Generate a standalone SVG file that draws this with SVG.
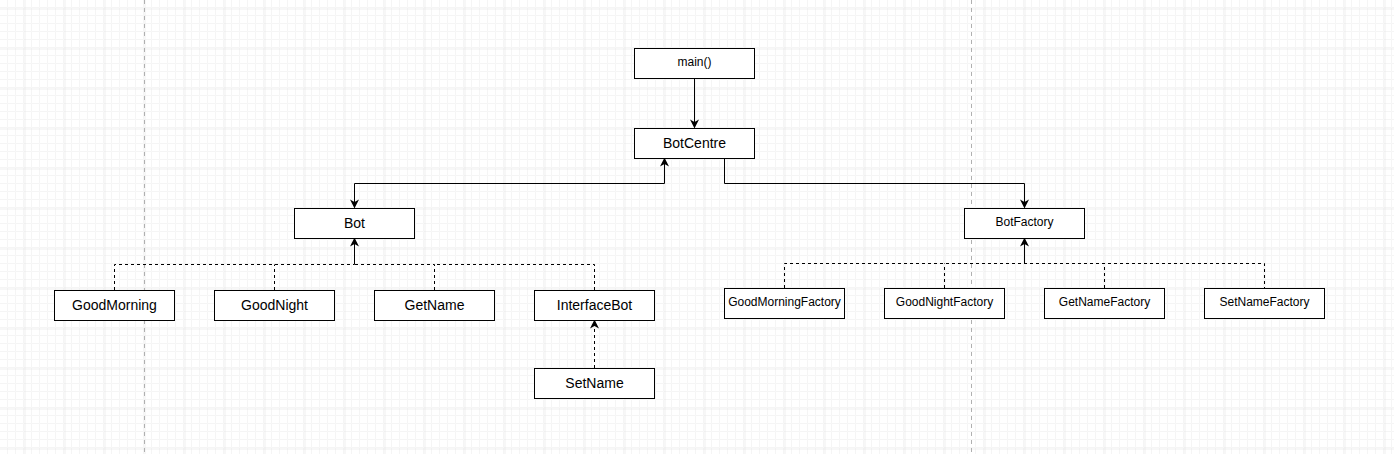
<svg xmlns="http://www.w3.org/2000/svg" width="1394" height="454" viewBox="0 0 1394 454">
<defs>
<pattern id="minor" width="8" height="8" patternUnits="userSpaceOnUse" x="0" y="0">
<path d="M8 0V8M0 8H8" fill="none" stroke="#f5f5f5" stroke-width="1" transform="translate(-0.5,-0.5)"/>
</pattern>
<pattern id="major" width="40" height="40" patternUnits="userSpaceOnUse" x="24.5" y="8.5">
<path d="M0 0V40M0 0H40" fill="none" stroke="#e0e0e0" stroke-width="1"/>
</pattern>
<marker id="arr" viewBox="0 0 10 10" refX="9" refY="5" markerWidth="9" markerHeight="9" markerUnits="userSpaceOnUse" orient="auto">
<path d="M0 0L10 5L0 10L3 5Z" fill="#000"/>
</marker>
</defs>
<style>
.box{fill:#fff;stroke:#000;stroke-width:1}
.t14{font-family:"Liberation Sans",Arial,sans-serif;font-size:14px;fill:#000;text-anchor:middle}
.t12{font-family:"Liberation Sans",Arial,sans-serif;font-size:12px;fill:#000;text-anchor:middle}
.solid{fill:none;stroke:#000;stroke-width:1}
.dash{fill:none;stroke:#000;stroke-width:1;stroke-dasharray:3 3}
.page{fill:none;stroke:#b0b0b0;stroke-width:1;stroke-dasharray:4 4}
</style>
<rect width="1394" height="454" fill="#fff"/>
<rect width="1394" height="454" fill="url(#minor)"/>
<rect width="1394" height="454" fill="url(#major)"/>
<line class="page" x1="144.5" y1="0" x2="144.5" y2="454"/>
<line class="page" x1="971.5" y1="0" x2="971.5" y2="454"/>
<g id="connectors">
<path class="solid" d="M694.5 78.5V127.5" marker-end="url(#arr)"/>
<path class="solid" d="M664.5 183.5H354.5V207.5" marker-end="url(#arr)"/>
<path class="solid" d="M664.5 183.5V158.5" marker-end="url(#arr)"/>
<path class="solid" d="M724.5 158.5V183.5H1024.5V207.5" marker-end="url(#arr)"/>
<path class="dash" d="M114.5 290V264.5H354.5"/>
<path class="dash" d="M274.5 290V264.5"/>
<path class="dash" d="M434.5 290V264.5H354.5"/>
<path class="dash" d="M594.5 290V264.5H434.5"/>
<path class="solid" d="M354.5 264.5V238.5" marker-end="url(#arr)"/>
<path class="dash" d="M594.5 368V320.5" marker-end="url(#arr)"/>
<path class="dash" d="M784.5 288V263.5H1264.5V288"/>
<path class="dash" d="M944.5 288V263.5"/>
<path class="dash" d="M1104.5 288V263.5"/>
<path class="solid" d="M1024.5 263.5V238.5" marker-end="url(#arr)"/>
</g>
<g id="main"><rect class="box" x="634.5" y="48.5" width="120" height="30"/><text class="t12" x="694.5" y="66">main()</text></g>
<g id="botcentre"><rect class="box" x="634.5" y="128.5" width="120" height="30"/><text class="t14" x="694.5" y="148">BotCentre</text></g>
<g id="bot"><rect class="box" x="294.5" y="208.5" width="120" height="30"/><text class="t14" x="354.5" y="228">Bot</text></g>
<g id="botfactory"><rect class="box" x="964.5" y="208.5" width="120" height="30"/><text class="t12" x="1024.5" y="226">BotFactory</text></g>
<g id="goodmorning"><rect class="box" x="54.5" y="290.5" width="120" height="30"/><text class="t14" x="114.5" y="310">GoodMorning</text></g>
<g id="goodnight"><rect class="box" x="214.5" y="290.5" width="120" height="30"/><text class="t14" x="274.5" y="310">GoodNight</text></g>
<g id="getname"><rect class="box" x="374.5" y="290.5" width="120" height="30"/><text class="t14" x="434.5" y="310">GetName</text></g>
<g id="interfacebot"><rect class="box" x="534.5" y="290.5" width="120" height="30"/><text class="t14" x="594.5" y="310">InterfaceBot</text></g>
<g id="setname"><rect class="box" x="534.5" y="368.5" width="120" height="30"/><text class="t14" x="594.5" y="388">SetName</text></g>
<g id="goodmorningfactory"><rect class="box" x="724.5" y="288.5" width="120" height="30"/><text class="t12" x="784.5" y="306">GoodMorningFactory</text></g>
<g id="goodnightfactory"><rect class="box" x="884.5" y="288.5" width="120" height="30"/><text class="t12" x="944.5" y="306">GoodNightFactory</text></g>
<g id="getnamefactory"><rect class="box" x="1044.5" y="288.5" width="120" height="30"/><text class="t12" x="1104.5" y="306">GetNameFactory</text></g>
<g id="setnamefactory"><rect class="box" x="1204.5" y="288.5" width="120" height="30"/><text class="t12" x="1264.5" y="306">SetNameFactory</text></g>
</svg>
